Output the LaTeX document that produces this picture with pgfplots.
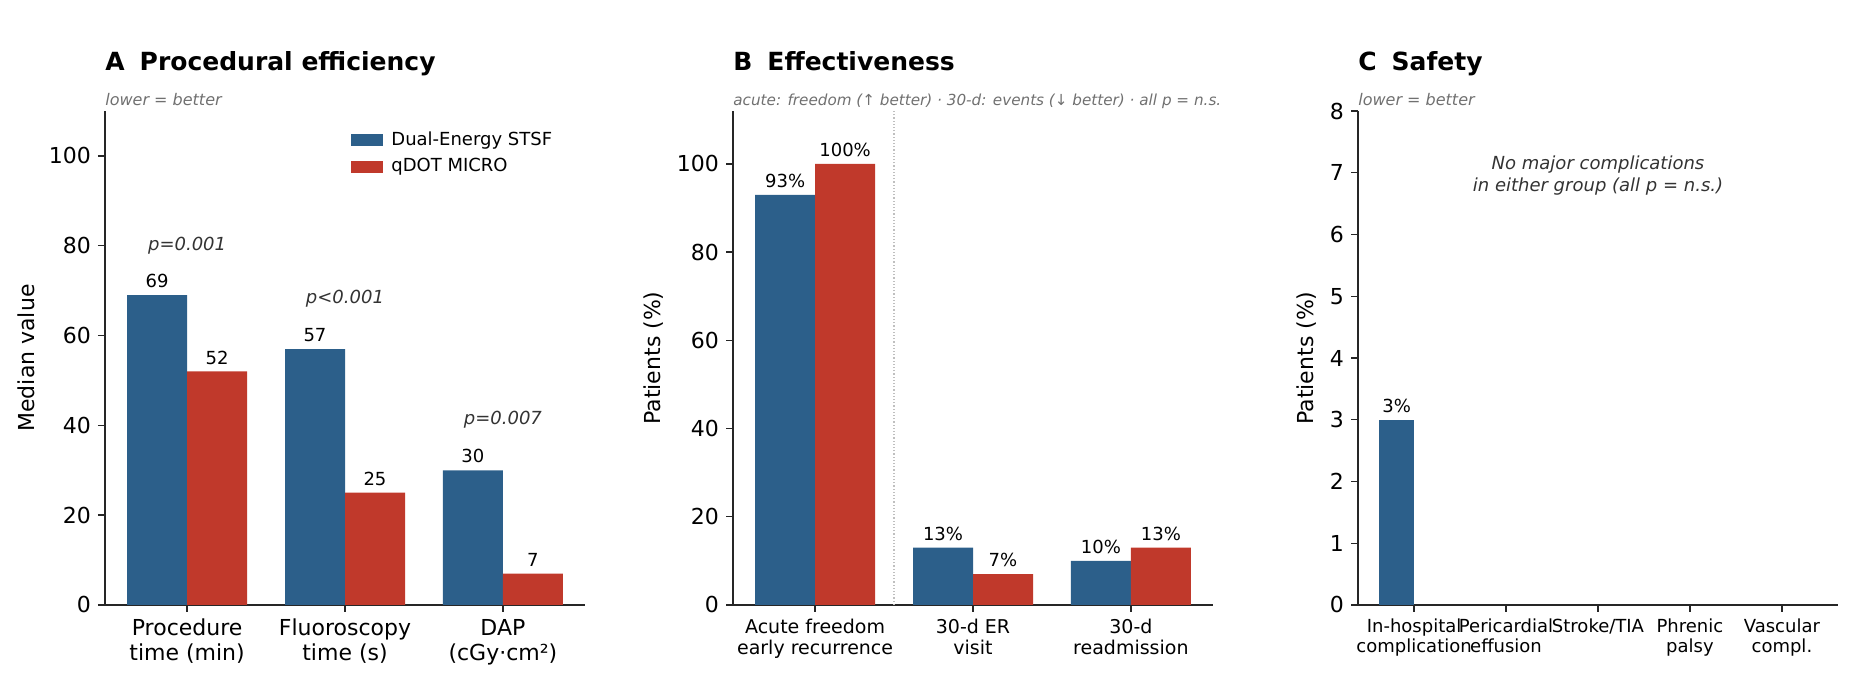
\documentclass[border=0pt]{standalone}
\usepackage{pgfplots}
\pgfplotsset{compat=1.18}
\usepackage{fontspec}
\setmainfont{DejaVu Sans}
\definecolor{cblue}{HTML}{2C5F8A}
\definecolor{cred}{HTML}{C0392B}
\definecolor{subg}{HTML}{707070}
\definecolor{ptxt}{HTML}{333333}
\pgfplotsset{
  base/.style={
    scale only axis, width=240pt, height=247pt,
    anchor=south west,
    axis x line*=bottom, axis y line*=left,
    axis line style={line width=0.7pt, black!85},
    tick align=outside, major tick length=3.5pt,
    tick style={line width=0.7pt, black!85},
    /pgf/number format/assume math mode=true,
    ymin=0, ybar, bar width=0.38,
    xtick=data,
    xticklabel style={align=center},
    ticklabel style={font=\fontsize{11}{12}\selectfont},
    ylabel style={font=\fontsize{11}{12}\selectfont},
    nodes near coords style={font=\fontsize{9}{10}\selectfont, black},
    clip=false,
  },
}
\begin{document}
\begin{tikzpicture}
\path[use as bounding box] (0,0) rectangle (924.5pt,341.5pt);
% Panel A
\begin{axis}[base, at={(52.5pt,39pt)},
  xmin=-0.52, xmax=2.52, ymax=110, ytick={0,20,...,100},
  xticklabels={{Procedure\\time (min)},{Fluoroscopy\\time (s)},{DAP\\(cGy·cm²)}},
  xticklabel style={font=\fontsize{11}{12.5}\selectfont},
  ylabel={Median value},
  nodes near coords,
  legend cell align=left,
  legend style={draw=none, fill=none, at={(0.5,0.975)}, anchor=north west,
    font=\fontsize{9}{12}\selectfont, row sep=1pt},
  legend image code/.code={\fill[#1] (0pt,-3pt) rectangle (16pt,3pt);},
]
\addplot[fill=cblue, draw=none, bar shift=-0.19] coordinates {(0,69) (1,57) (2,30)};
\addplot[fill=cred, draw=none, bar shift=0.19] coordinates {(0,52) (1,25) (2,7)};
\legend{\hspace*{2pt}Dual-Energy STSF, \hspace*{2pt}qDOT MICRO}
\node[font=\itshape\fontsize{9}{10}\selectfont, text=ptxt] at (axis cs:0,80) {p=0.001};
\node[font=\itshape\fontsize{9}{10}\selectfont, text=ptxt] at (axis cs:1,68.3) {p<0.001};
\node[font=\itshape\fontsize{9}{10}\selectfont, text=ptxt] at (axis cs:2,41.3) {p=0.007};
\node[anchor=base west, font=\bfseries\fontsize{12.5}{14}\selectfont, inner sep=0pt] at ([yshift=20pt]rel axis cs:0,1) {A\hspace{0.6em}Procedural efficiency};
\node[anchor=base west, font=\itshape\fontsize{8}{9}\selectfont, text=subg, inner sep=0pt] at ([yshift=2.5pt]rel axis cs:0,1) {lower = better};
\end{axis}
% Panel B
\begin{axis}[base, at={(366.5pt,39pt)},
  xmin=-0.52, xmax=2.52, ymax=112, ytick={0,20,...,100},
  xticklabels={{Acute freedom\\early recurrence},{30-d ER\\visit},{30-d\\readmission}},
  xticklabel style={font=\fontsize{9.5}{10.5}\selectfont},
  ylabel={Patients (\%)},
  nodes near coords={\pgfmathprintnumber{\pgfplotspointmeta}\%},
]
\draw[densely dotted, black!25, line width=0.6pt] (axis cs:0.5,0) -- (axis cs:0.5,112);
\addplot[fill=cblue, draw=none, bar shift=-0.19] coordinates {(0,93) (1,13) (2,10)};
\addplot[fill=cred, draw=none, bar shift=0.19] coordinates {(0,100) (1,7) (2,13)};
\node[anchor=base west, font=\bfseries\fontsize{12.5}{14}\selectfont, inner sep=0pt] at ([yshift=20pt]rel axis cs:0,1) {B\hspace{0.6em}Effectiveness};
\node[anchor=base west, font=\itshape\fontsize{7.6}{9}\selectfont, text=subg, inner sep=0pt] at ([yshift=2.5pt]rel axis cs:0,1) {acute: freedom (↑ better) · 30-d: events (↓ better) · all p = n.s.};
\end{axis}
% Panel C
\begin{axis}[base, at={(679pt,39pt)},
  xmin=-0.61, xmax=4.61, ymax=8, ytick={0,1,...,8},
  xtick={0,1,2,3,4},
  xticklabels={{In-hospital\\complication},{Pericardial\\effusion},{Stroke/TIA},{Phrenic\\palsy},{Vascular\\compl.}},
  xticklabel style={font=\fontsize{9}{10}\selectfont, anchor=north},
  ylabel={Patients (\%)},
  nodes near coords={\pgfmathprintnumber{\pgfplotspointmeta}\%},
]
\addplot[fill=cblue, draw=none, bar shift=-0.19] coordinates {(0,3)};
\node[font=\itshape\fontsize{9}{11}\selectfont, text=ptxt, align=center] at (axis cs:2,6.95) {No major complications\\in either group (all p = n.s.)};
\node[anchor=base west, font=\bfseries\fontsize{12.5}{14}\selectfont, inner sep=0pt] at ([yshift=20pt]rel axis cs:0,1) {C\hspace{0.6em}Safety};
\node[anchor=base west, font=\itshape\fontsize{8}{9}\selectfont, text=subg, inner sep=0pt] at ([yshift=2.5pt]rel axis cs:0,1) {lower = better};
\end{axis}
\end{tikzpicture}
\end{document}
